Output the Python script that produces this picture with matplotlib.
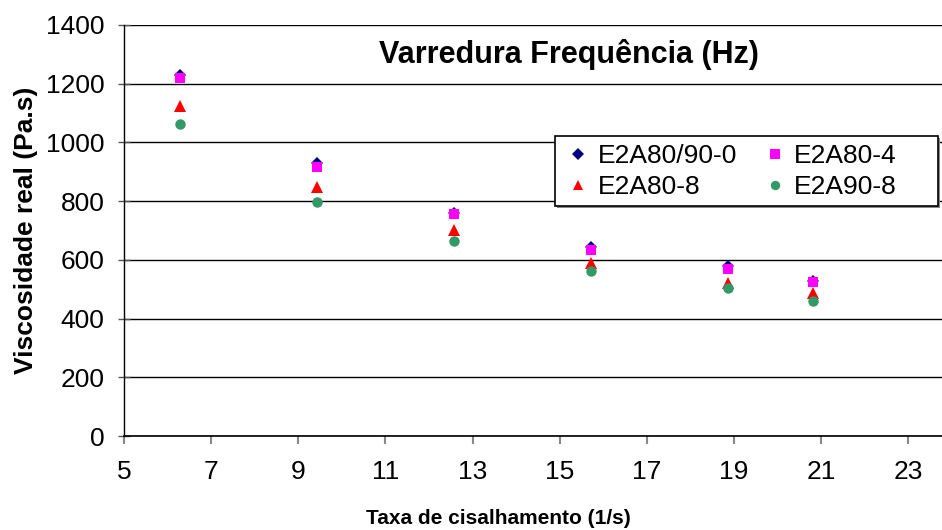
import matplotlib
matplotlib.use('Agg')
import matplotlib.pyplot as plt
from matplotlib.patches import Rectangle

plt.rcParams['font.family'] = ['Liberation Sans', 'DejaVu Sans']

# shear rate (1/s)
taxa = [6.28, 9.42, 12.57, 15.71, 18.85, 20.8]

# real viscosity (Pa.s) per sample
e2a80_90_0 = [1229, 930, 760, 644, 578, 529]
e2a80_4 = [1219, 916, 756, 634, 569, 526]
e2a80_8 = [1124, 848, 702, 589, 521, 487]
e2a90_8 = [1063, 797, 664, 562, 504, 460]

series = [
    ('E2A80/90-0', e2a80_90_0, 'D', '#000080', 6.5),
    ('E2A80-4', e2a80_4, 's', '#FF00FF', 7.5),
    ('E2A80-8', e2a80_8, '^', '#FF0000', 8.5),
    ('E2A90-8', e2a90_8, 'o', '#339966', 7.5),
]

fig = plt.figure(figsize=(9.42, 5.30), dpi=100)
ax = fig.add_axes([124/942, 94/530, 828/942, 411/530])

handles = []
for name, vals, mk, col, ms in series:
    h, = ax.plot(taxa, vals, linestyle='none', marker=mk, color=col,
                 markersize=ms, markeredgewidth=0, label=name, zorder=3)
    handles.append(h)

ax.set_xlim(5, 24)
ax.set_ylim(0, 1400)
ax.set_xticks(range(5, 24, 2))
ax.set_yticks(range(0, 1401, 200))
ax.yaxis.grid(True, color='black', linewidth=1)
ax.set_axisbelow(True)

for s in ['top', 'right']:
    ax.spines[s].set_visible(False)
ax.spines['left'].set_linewidth(1)
ax.spines['bottom'].set_linewidth(1.2)

ax.tick_params(axis='y', direction='inout', length=8, width=1,
               labelsize=19, pad=10, color='#555555')
ax.tick_params(axis='x', direction='out', length=6, width=1.5,
               labelsize=19, pad=11, color='#888888')

ax.set_ylabel('Viscosidade real (Pa.s)', fontsize=19, fontweight='bold')
ax.yaxis.set_label_coords(-0.104, 0.5)
fig.text(498/942, 12/530, 'Taxa de cisalhamento (1/s)', fontsize=15,
         fontweight='bold', ha='center', va='center')

fig.text(569/942, 475/530, 'Varredura Frequência (Hz)',
         fontsize=22, fontweight='bold', ha='center', va='center')

# legend box with shadow, drawn under the legend entries
ax.add_patch(Rectangle((557/942, 322/530), 383/942, 70/530,
                       transform=fig.transFigure, facecolor='#888888',
                       edgecolor='none', zorder=4, clip_on=False))
ax.add_patch(Rectangle((555/942, 324/530), 383/942, 70/530,
                       transform=fig.transFigure, facecolor='white',
                       edgecolor='black', linewidth=1.2, zorder=4.5,
                       clip_on=False))
# row-wise order like the original
order = [0, 2, 1, 3]
leg = ax.legend([handles[i] for i in order], [series[i][0] for i in order],
                ncol=2, loc='upper left', bbox_to_anchor=(565/942, 386/530),
                bbox_transform=fig.transFigure, fontsize=19, frameon=False,
                handletextpad=0.23, columnspacing=0.95, borderpad=0,
                borderaxespad=0, labelspacing=0.27, handlelength=1.0,
                markerscale=0.9)
leg.set_zorder(6)

fig.savefig('out.png', dpi=100)
